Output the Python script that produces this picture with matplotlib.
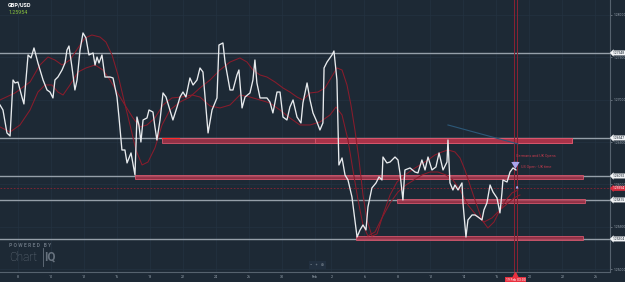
import matplotlib.pyplot as plt
from matplotlib.patches import Rectangle

plt.rcParams['font.family'] = ['Roboto', 'DejaVu Sans']

# x axis: trading days counted from Mon 8 Jan 2024 (weekends skipped)
tick_days = [0, 2, 4, 6, 8, 10, 12, 14, 16, 18, 19, 21, 23, 25, 27, 29, 31, 33, 35]
tick_labels = ['8', '10', '12', '16', '18', '22', '24', '26', '30', 'Feb', '2',
               '6', '8', '12', '14', '16', '20', '22', '26']
price_ticks = [1.250, 1.255, 1.260, 1.265, 1.270, 1.275, 1.280]

# GBP/USD close
close_day = [-1.09, -0.91, -0.67, -0.48, -0.30, -0.18, 0.00, 0.24, 0.36, 0.61, 0.79, 0.97,
             1.21, 1.52, 1.76, 1.94, 2.12, 2.24, 2.42, 2.67, 2.85, 2.97, 3.09, 3.27, 3.45,
             3.58, 3.76, 3.94, 4.12, 4.30, 4.55, 4.67, 4.79, 4.91, 5.09, 5.27, 5.58, 5.76,
             6.00, 6.12, 6.30, 6.48, 6.61, 6.85, 7.09, 7.21, 7.33, 7.45, 7.58, 7.82, 7.94,
             8.18, 8.30, 8.42, 8.61, 8.79, 8.97, 9.21, 9.39, 9.64, 9.82, 10.00, 10.18, 10.42,
             10.61, 10.85, 11.03, 11.21, 11.52, 11.76, 12.06, 12.18, 12.42, 12.55, 12.85,
             13.03, 13.27, 13.39, 13.58, 13.76, 14.06, 14.24, 14.36, 14.48, 14.67, 15.09,
             15.27, 15.45, 15.70, 15.88, 16.06, 16.30, 16.48, 16.67, 16.91, 17.15, 17.27,
             17.52, 17.70, 17.88, 18.12, 18.30, 18.48, 18.55, 18.73, 19.03, 19.15, 19.33,
             19.45, 19.64, 19.82, 20.00, 20.24, 20.55, 20.73, 20.91, 21.09, 21.21, 21.45,
             21.70, 21.88, 22.06, 22.12, 22.36, 22.55, 22.85, 23.03, 23.15, 23.33, 23.45,
             23.76, 24.06, 24.24, 24.48, 24.67, 24.85, 25.09, 25.33, 25.52, 25.76, 26.00,
             26.06, 26.18, 26.36, 26.48, 26.67, 26.91, 26.97, 27.15, 27.27, 27.52, 27.70,
             27.88, 28.12, 28.24, 28.42, 28.61, 28.79, 29.03, 29.21, 29.33, 29.39, 29.64,
             29.82, 30.00, 30.18]
close = [1.26938, 1.26879, 1.26608, 1.26572, 1.27233, 1.27198, 1.27209, 1.27032, 1.26950,
         1.27528, 1.27493, 1.27611, 1.27434, 1.27233, 1.27115, 1.27091, 1.27021, 1.27233,
         1.27268, 1.27351, 1.27434, 1.27587, 1.27634, 1.27386, 1.27115, 1.27233, 1.27587,
         1.27788, 1.27729, 1.27528, 1.27552, 1.27410, 1.27504, 1.27434, 1.27528, 1.27268,
         1.27268, 1.27257, 1.27032, 1.26796, 1.26407, 1.26407, 1.26254, 1.26372, 1.26112,
         1.26796, 1.26702, 1.26501, 1.26761, 1.26785, 1.26879, 1.26855, 1.26679, 1.26525,
         1.26761, 1.27080, 1.27032, 1.26879, 1.26761, 1.26914, 1.27032, 1.27091, 1.27032,
         1.27257, 1.27174, 1.27233, 1.27375, 1.27327, 1.26608, 1.26879, 1.27021, 1.27646,
         1.27670, 1.27445, 1.27115, 1.27115, 1.27292, 1.27351, 1.26903, 1.27032, 1.27080,
         1.27233, 1.27469, 1.27198, 1.27021, 1.27021, 1.26973, 1.26844, 1.27091, 1.27091,
         1.26796, 1.26761, 1.26914, 1.26997, 1.26796, 1.26726, 1.26962, 1.27198, 1.26997,
         1.26844, 1.26737, 1.26643, 1.26726, 1.27375, 1.27445, 1.27528, 1.27575, 1.27233,
         1.26230, 1.26313, 1.26112, 1.26053, 1.25853, 1.25380, 1.25463, 1.25522, 1.25463,
         1.25734, 1.25959, 1.26018, 1.26089, 1.26053, 1.26324, 1.26254, 1.26265, 1.26324,
         1.26289, 1.26136, 1.25817, 1.26171, 1.26195, 1.26147, 1.26136, 1.26289, 1.26171,
         1.26324, 1.26171, 1.26207, 1.26372, 1.26171, 1.26265, 1.26525, 1.26018, 1.25935,
         1.25994, 1.25935, 1.26018, 1.25781, 1.25380, 1.25581, 1.25640, 1.25640, 1.25616,
         1.25581, 1.25699, 1.25781, 1.25994, 1.25911, 1.25841, 1.25664, 1.25900, 1.26053,
         1.26029, 1.26147, 1.26195, 1.26171]

# moving averages
ma_fast_day = [-1.09, -0.18, 0.73, 1.33, 1.82, 2.24, 2.67, 3.15, 3.64, 4.06, 4.48, 4.97,
               5.33, 5.70, 6.06, 6.42, 6.79, 7.15, 7.52, 7.88, 8.30, 8.73, 9.21, 9.82,
               10.42, 11.03, 11.64, 12.24, 12.85, 13.45, 13.88, 14.24, 14.67, 15.09, 15.58,
               16.06, 16.48, 16.91, 17.27, 17.70, 18.18, 18.61, 18.97, 19.33, 19.64, 19.94,
               20.18, 20.42, 20.67, 20.91, 21.15, 21.45, 21.76, 22.12, 22.55, 22.97, 23.45,
               23.88, 24.36, 24.85, 25.27, 25.70, 26.06, 26.48, 26.79, 27.09, 27.39, 27.76,
               28.12, 28.48, 28.85, 29.21, 29.58, 29.94, 30.30]
ma_fast = [1.26997, 1.27080, 1.27209, 1.27410, 1.27504, 1.27469, 1.27410, 1.27469, 1.27611,
           1.27729, 1.27764, 1.27740, 1.27681, 1.27528, 1.27292, 1.26997, 1.26702, 1.26407,
           1.26230, 1.26265, 1.26431, 1.26702, 1.26879, 1.26973, 1.27032, 1.27139, 1.27233,
           1.27351, 1.27445, 1.27493, 1.27445, 1.27351, 1.27292, 1.27268, 1.27209, 1.27139,
           1.27091, 1.27032, 1.26997, 1.27080, 1.27091, 1.27139, 1.27257, 1.27375, 1.27351,
           1.27174, 1.26938, 1.26643, 1.26289, 1.25876, 1.25581, 1.25392, 1.25416, 1.25640,
           1.25876, 1.26029, 1.26112, 1.26171, 1.26230, 1.26289, 1.26348, 1.26384, 1.26407,
           1.26384, 1.26313, 1.26171, 1.25994, 1.25781, 1.25581, 1.25487, 1.25557, 1.25699,
           1.25817, 1.25900, 1.25935]
ma_slow_day = [-1.09, -0.48, 0.12, 0.73, 1.21, 1.64, 2.06, 2.42, 2.73, 3.15, 3.64, 4.12,
               4.67, 5.15, 5.58, 6.00, 6.48, 6.97, 7.39, 7.82, 8.30, 8.79, 9.33, 9.94,
               10.55, 11.03, 11.64, 12.24, 12.85, 13.45, 14.06, 14.67, 15.27, 15.88, 16.48,
               17.09, 17.70, 18.30, 18.91, 19.27, 19.64, 20.00, 20.30, 20.61, 20.91, 21.21,
               21.64, 22.06, 22.55, 23.03, 23.52, 24.00, 24.48, 24.97, 25.45, 25.94, 26.36,
               26.79, 27.27, 27.76, 28.24, 28.73, 29.21, 29.70, 30.06, 30.42]
ma_slow = [1.26679, 1.26619, 1.26702, 1.26879, 1.27091, 1.27174, 1.27174, 1.27091, 1.27056,
           1.27174, 1.27327, 1.27375, 1.27410, 1.27351, 1.27233, 1.27091, 1.26938, 1.26785,
           1.26679, 1.26702, 1.26785, 1.26938, 1.27021, 1.27032, 1.27056, 1.27032, 1.26926,
           1.26903, 1.26938, 1.27056, 1.27032, 1.26997, 1.26962, 1.26879, 1.26785, 1.26702,
           1.26702, 1.26737, 1.26820, 1.26914, 1.26820, 1.26525, 1.26171, 1.25817, 1.25522,
           1.25392, 1.25439, 1.25605, 1.25781, 1.25911, 1.25994, 1.26053, 1.26112, 1.26147,
           1.26147, 1.26112, 1.26053, 1.25935, 1.25758, 1.25640, 1.25557, 1.25605, 1.25699,
           1.25781, 1.25841, 1.25876]

# support / resistance levels
levels = [1.27552, 1.26549, 1.26100, 1.25817, 1.25357]
level_labels = ['1.27548', '1.26547', '1.26092', '1.25815', '1.25304']

# zones
zone_start = [8.73, 18.0, 7.09, 22.97, 20.48]
zone_end = [33.58, 33.58, 34.24, 34.36, 34.24]
zone_low = [1.26493, 1.26493, 1.26065, 1.25781, 1.25345]
zone_high = [1.26552, 1.26552, 1.26112, 1.25829, 1.25392]

last_price = 1.25954
event_day = 30.15
trend_day = [26.06, 30.30]
trend_price = [1.26702, 1.26478]

BG = '#1d2935'
fig = plt.figure(figsize=(6.25, 2.82), dpi=100, facecolor=BG)
ax = fig.add_axes([0, 0.0355, 0.976, 0.9645], facecolor=BG)
ax.set_xlim(-1.09, 35.88)
ax.set_ylim(1.24967, 1.28177)

# faint grid
for d in tick_days:
    ax.axvline(d, color='#243341', lw=0.5, zorder=0)
for p in price_ticks:
    ax.axhline(p, color='#243341', lw=0.5, zorder=0)

# levels
for lv in levels:
    ax.axhline(lv, color='#959fa9', lw=1.0, zorder=1)

# zones
for x0, x1, lo, hi in zip(zone_start, zone_end, zone_low, zone_high):
    ax.add_patch(Rectangle((x0, lo), x1 - x0, hi - lo, facecolor='#b0334a',
                           edgecolor='#de5a70', lw=0.7, alpha=0.8, zorder=2))
ax.plot([zone_start[0], zone_start[0] + 1.0], [zone_high[0]] * 2, color='#ff2a2a', lw=0.8, zorder=3)

# current price dotted line
ax.axhline(last_price, color='#8e2231', lw=0.6, ls=(0, (2, 2)), zorder=1)

# event marker line
ax.axvline(event_day - 0.09, color='#8a2233', lw=0.7, zorder=2)
ax.axvline(event_day + 0.09, color='#8a2233', lw=0.7, zorder=2)

# trend line
ax.plot(trend_day, trend_price, color='#2c5878', lw=0.8, zorder=2)

# moving averages and price
ax.plot(ma_slow_day, ma_slow, color='#8a1c2c', lw=0.75, zorder=3)
ax.plot(ma_fast_day, ma_fast, color='#8a1c2c', lw=0.75, zorder=3)
ax.plot(close_day, close, color='#e8ebee', lw=0.95, zorder=4)

# annotations
ax.text(event_day + 0.05, 1.26330, 'Germans and UK Opens', color='#c03a4c', fontsize=2.7,
        va='center', zorder=5)
ax.text(event_day + 0.35, 1.26210, 'US Open - UK time', color='#c03a4c', fontsize=2.7,
        va='center', zorder=5)
ax.annotate('', xy=(event_day, 1.26150), xytext=(event_day, 1.26300),
            arrowprops=dict(arrowstyle='simple,head_width=0.6,head_length=0.5,tail_width=0.35',
                            color='#a8a4ec', lw=0), zorder=6)
ax.annotate('', xy=(event_day + 0.1, 1.26020), xytext=(event_day + 0.1, 1.25930),
            arrowprops=dict(arrowstyle='-|>', color='#a8a4ec', lw=0.6, mutation_scale=3), zorder=6)

# axes styling
for s in ['top', 'left']:
    ax.spines[s].set_visible(False)
for s in ['bottom', 'right']:
    ax.spines[s].set_color('#56626e')
    ax.spines[s].set_linewidth(0.8)
ax.yaxis.tick_right()
ax.set_yticks(price_ticks)
ax.set_yticklabels([f'{p:.5f}' for p in price_ticks])
ax.set_xticks(tick_days)
ax.set_xticklabels(tick_labels)
ax.tick_params(axis='y', colors='#9ba6b1', labelsize=2.4, length=1.5, width=0.4, pad=1)
ax.tick_params(axis='x', colors='#9ba6b1', labelsize=2.6, length=0, pad=2)

# level price tags on the axis
ytr = ax.get_yaxis_transform()
for lv, lab in zip(levels, level_labels):
    ax.text(1.004, lv, lab, transform=ytr, fontsize=2.4, color='#1d2935', va='center',
            ha='left', clip_on=False, zorder=7,
            bbox=dict(boxstyle='larrow,pad=0.15', fc='#f2f4f6', ec='none'))
ax.text(1.004, last_price, f'{last_price:.5f}', transform=ytr, fontsize=2.4, color='white',
        va='center', ha='left', clip_on=False, zorder=7,
        bbox=dict(boxstyle='larrow,pad=0.15', fc='#d52c3e', ec='none'))

# event tag below the axis
xtr = ax.get_xaxis_transform()
ax.plot([event_day], [-0.012], marker='^', ms=4, color='#e8303f', transform=xtr, clip_on=False, zorder=7)
ax.text(event_day, -0.03, '19 Feb 03:00', transform=xtr, fontsize=2.4, color='white',
        ha='center', va='center', clip_on=False, zorder=7,
        bbox=dict(boxstyle='square,pad=0.25', fc='#e8303f', ec='none'))

# header
fig.text(0.013, 0.982, 'GBP/USD', color='white', fontsize=4.0, fontweight='bold', va='center')
fig.text(0.013, 0.955, f'{last_price:.5f}', color='#8cc63f', fontsize=3.8, va='center')

# logo
fig.text(0.015, 0.131, 'P O W E R E D   B Y', color='#66717d', fontsize=3.6, fontweight='bold', va='center')
fig.text(0.014, 0.088, 'Chart', color='#66717d', fontsize=8.5, fontweight='light', va='center')
fig.text(0.071, 0.088, 'IQ', color='#66717d', fontsize=8.5, fontweight='bold', va='center')
fig.add_artist(plt.Line2D([0.068, 0.068], [0.055, 0.12], color='#66717d', lw=0.6))

# zoom controls
fig.text(0.508, 0.06, '\u2212   +   \u2295', color='#7e8994', fontsize=3, ha='center', va='center',
         bbox=dict(boxstyle='square,pad=0.4', fc='#223040', ec='none'))

plt.savefig('out.png', dpi=100, facecolor=BG)
